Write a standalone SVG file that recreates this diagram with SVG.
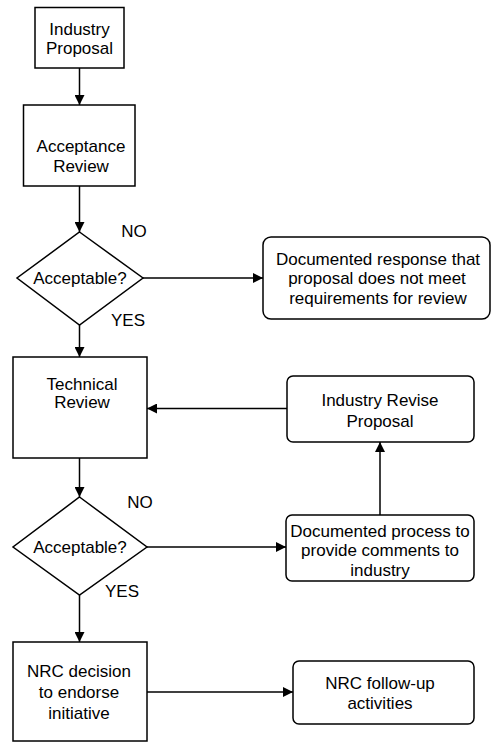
<svg xmlns="http://www.w3.org/2000/svg" width="491" height="742" viewBox="0 0 491 742">
<defs>
<marker id="arr" viewBox="0 0 10 10" refX="10" refY="5" markerWidth="10" markerHeight="10" markerUnits="userSpaceOnUse" orient="auto">
<path d="M0,0 L10,5 L0,10 Z" fill="#000"/>
</marker>
<style>
.n{fill:#fff;stroke:#000;stroke-width:1.5}
.t{font-family:"Liberation Sans",Arial,sans-serif;font-size:17px;fill:#000;text-anchor:middle;dominant-baseline:central}
.c{fill:none;stroke:#000;stroke-width:1.5;marker-end:url(#arr)}
.l{fill:none;stroke:#000;stroke-width:1.5}
</style>
</defs>
<rect width="491" height="742" fill="#fff"/>
<g id="connectors">
<line class="c" x1="79.5" y1="68" x2="79.5" y2="105"/>
<line class="c" x1="79.5" y1="186" x2="79.5" y2="232"/>
<line class="c" x1="143" y1="278" x2="263" y2="278"/>
<line class="c" x1="79.5" y1="325" x2="79.5" y2="357"/>
<line class="c" x1="287" y1="408.5" x2="147" y2="408.5"/>
<line class="c" x1="380" y1="515" x2="380" y2="442"/>
<line class="c" x1="79.5" y1="458" x2="79.5" y2="497"/>
<line class="c" x1="147" y1="547" x2="286" y2="547"/>
<line class="c" x1="79.5" y1="595" x2="79.5" y2="642"/>
<line class="c" x1="147" y1="692" x2="293" y2="692"/>
</g>
<g id="industry-proposal">
<rect class="n" x="35" y="7.5" width="89" height="60.5"/>
<text class="t" x="79.5" y="29">Industry</text>
<text class="t" x="79.5" y="48">Proposal</text>
</g>
<g id="acceptance-review">
<rect class="n" x="23.5" y="105" width="111.5" height="81"/>
<text class="t" x="81" y="146">Acceptance</text>
<text class="t" x="81" y="166">Review</text>
</g>
<g id="acceptable-1">
<polygon class="n" points="79.5,232 143,278 79.5,325 17,278"/>
<text class="t" x="80" y="278">Acceptable?</text>
</g>
<g id="label-no-1"><text class="t" x="134" y="231">NO</text></g>
<g id="label-yes-1"><text class="t" x="128" y="320">YES</text></g>
<g id="documented-response">
<rect class="n" x="263" y="237" width="227" height="82" rx="8" ry="8"/>
<text class="t" x="378" y="259">Documented response that</text>
<text class="t" x="377" y="278">proposal does not meet</text>
<text class="t" x="378" y="298">requirements for review</text>
</g>
<g id="technical-review">
<rect class="n" x="13" y="357" width="134" height="101"/>
<text class="t" x="82" y="384">Technical</text>
<text class="t" x="82" y="402">Review</text>
</g>
<g id="industry-revise">
<rect class="n" x="287" y="376" width="187" height="66" rx="6" ry="6"/>
<text class="t" x="380" y="400">Industry Revise</text>
<text class="t" x="380" y="421">Proposal</text>
</g>
<g id="acceptable-2">
<polygon class="n" points="79.5,497 147,547 79.5,595 13,547"/>
<text class="t" x="80" y="547">Acceptable?</text>
</g>
<g id="label-no-2"><text class="t" x="140" y="502">NO</text></g>
<g id="label-yes-2"><text class="t" x="122" y="591">YES</text></g>
<g id="documented-process">
<rect class="n" x="286" y="515" width="188" height="66" rx="6" ry="6"/>
<text class="t" x="380" y="531">Documented process to</text>
<text class="t" x="380" y="550">provide comments to</text>
<text class="t" x="380" y="570">industry</text>
</g>
<g id="nrc-decision">
<rect class="n" x="13" y="642" width="134" height="99"/>
<text class="t" x="79" y="671">NRC decision</text>
<text class="t" x="79" y="692">to endorse</text>
<text class="t" x="79" y="713">initiative</text>
</g>
<g id="nrc-follow-up">
<rect class="n" x="293" y="661" width="181" height="63" rx="6" ry="6"/>
<text class="t" x="380" y="683">NRC follow-up</text>
<text class="t" x="380" y="703">activities</text>
</g>
</svg>
